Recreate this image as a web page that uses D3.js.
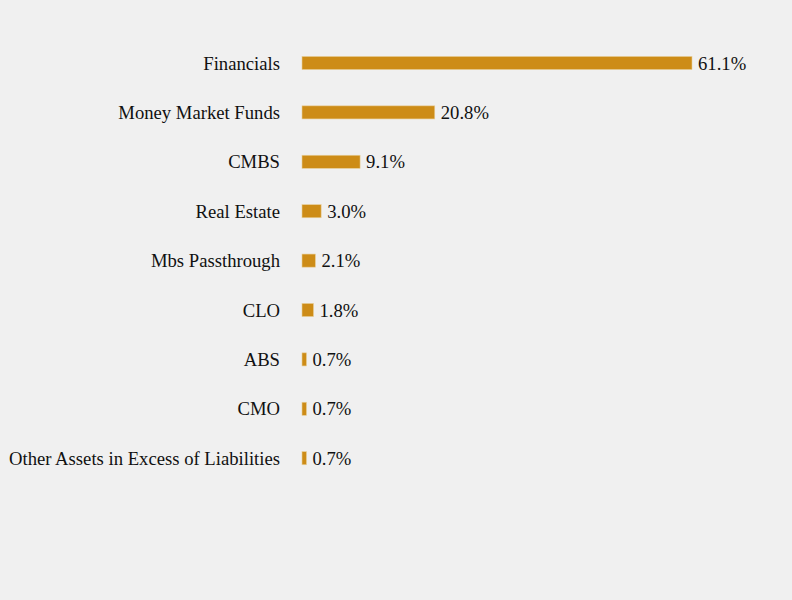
<!DOCTYPE html>
<html>
<head>
<meta charset="utf-8">
<script src="https://cdn.jsdelivr.net/npm/d3@7"></script>
<style>
html,body{margin:0;padding:0;background:#f0f0f0;}
svg{display:block;}
svg text{font-family:"Liberation Serif","Times New Roman",Times,serif;font-size:18.67px;fill:#111;}
</style>
</head>
<body>
<svg id="chart" width="792" height="600"></svg>
<script>
const categories = ["Financials","Money Market Funds","CMBS","Real Estate","Mbs Passthrough","CLO","ABS","CMO","Other Assets in Excess of Liabilities"];
const values = [61.1,20.8,9.1,3.0,2.1,1.8,0.7,0.7,0.7];
const valueLabels = ["61.1%","20.8%","9.1%","3.0%","2.1%","1.8%","0.7%","0.7%","0.7%"];

const svg = d3.select("#chart");
svg.append("rect").attr("width",792).attr("height",600).attr("fill","#f0f0f0");

const x = d3.scaleLinear().domain([0, 61.1]).range([302, 692]);
const y = d3.scaleBand().domain(categories).range([38.3, 482.9]).paddingInner(0.735).paddingOuter(0.3675);

svg.selectAll("rect.bar").data(values).enter().append("rect")
  .attr("class","bar")
  .attr("x", x(0))
  .attr("y", (d,i)=>y(categories[i]))
  .attr("width", d=>x(d)-x(0))
  .attr("height", y.bandwidth())
  .attr("fill","#cd8c17")
  .attr("stroke","#e8cf9a")
  .attr("stroke-width",0.6);

svg.selectAll("text.cat").data(categories).enter().append("text")
  .attr("class","cat")
  .attr("x", 280)
  .attr("y", d=>y(d)+y.bandwidth()/2)
  .attr("dy","0.35em")
  .attr("text-anchor","end")
  .text(d=>d);

svg.selectAll("text.val").data(values).enter().append("text")
  .attr("class","val")
  .attr("x", d=>x(d)+6)
  .attr("y", (d,i)=>y(categories[i])+y.bandwidth()/2)
  .attr("dy","0.35em")
  .text((d,i)=>valueLabels[i]);
</script>
</body>
</html>
